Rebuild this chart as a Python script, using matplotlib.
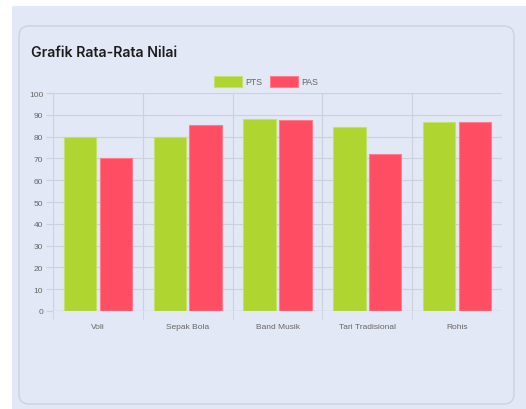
import numpy as np
import matplotlib
matplotlib.use("Agg")
import matplotlib.pyplot as plt
from matplotlib.patches import Rectangle, FancyBboxPatch

# data
categories = ["Voli", "Sepak Bola", "Band Musik", "Tari Tradisional", "Rohis"]
pts = [80, 80, 88, 84.2, 86.7]
pas = [70, 85.3, 87.6, 72, 86.7]
series_names = ["PTS", "PAS"]
y_ticks = list(range(0, 101, 10))

W, H = 526, 410
fig = plt.figure(figsize=(W / 100, H / 100), dpi=100)
fig.patch.set_facecolor("white")

bg = "#E3E8F6"
# page background (white strip at top / left)
fig.patches.append(Rectangle((12 / W, 0), 1 - 12 / W, 1 - 7 / H,
                             transform=fig.transFigure, facecolor=bg,
                             edgecolor="none", zorder=-2))
# card (inches)
fig.patches.append(FancyBboxPatch((0.19, 0.05), 4.95, 3.78,
                                  boxstyle="round,pad=0,rounding_size=0.1",
                                  transform=fig.dpi_scale_trans, facecolor=bg,
                                  edgecolor="#CDD2E2", linewidth=1, zorder=-1))

fig.text(31 / W, 1 - 53 / H, "Grafik Rata-Rata Nilai", fontsize=10.2,
         fontfamily="Inter", fontweight="semibold", color="#1c1c1c",
         va="center", ha="left")

ax = fig.add_axes([53 / W, 1 - 312 / H, 449 / W, 218 / H])
ax.set_facecolor("none")
ax.set_zorder(2)

x = np.arange(len(categories))
green = "#AFD530"
red = "#FF4D64"
ax.bar(x - 0.2, pts, width=0.36, color=green, edgecolor="#C4E070",
       linewidth=0.8, label=series_names[0], zorder=3)
ax.bar(x + 0.2, pas, width=0.36, color=red, edgecolor="#FF7C8D",
       linewidth=0.8, label=series_names[1], zorder=3)

ax.set_xlim(-0.5, len(categories) - 0.5)
ax.set_ylim(0, 100)
ax.set_yticks(y_ticks)
ax.set_xticks(x)
ax.set_xticklabels(categories)
ax.set_xticks(np.arange(-0.5, len(categories) - 1), minor=True)

grid_c = "#CDD1DD"
ax.grid(axis="y", color=grid_c, linewidth=0.8, zorder=0)
ax.grid(axis="x", which="minor", color=grid_c, linewidth=0.8, zorder=0)
for s in ax.spines.values():
    s.set_visible(False)
ax.axhline(0, color="#BFC3CF", linewidth=0.9, zorder=4)

ax.tick_params(axis="y", length=5, color=grid_c, labelsize=6, labelcolor="#666666", pad=2)
ax.tick_params(axis="x", which="major", length=0, labelsize=6, labelcolor="#666666", pad=9)
ax.tick_params(axis="x", which="minor", length=6, color=grid_c)
for lab in ax.get_xticklabels() + ax.get_yticklabels():
    lab.set_fontfamily("Liberation Sans")

leg = fig.legend(loc="center", bbox_to_anchor=(266 / W, 1 - 82.5 / H), ncol=2,
                 frameon=False, handlelength=3.2, handleheight=1.5,
                 columnspacing=0.8, handletextpad=0.4,
                 prop={"family": "Liberation Sans", "size": 6.3})
for t in leg.get_texts():
    t.set_color("#666666")

fig.savefig("out.png", dpi=100, facecolor=fig.get_facecolor())
